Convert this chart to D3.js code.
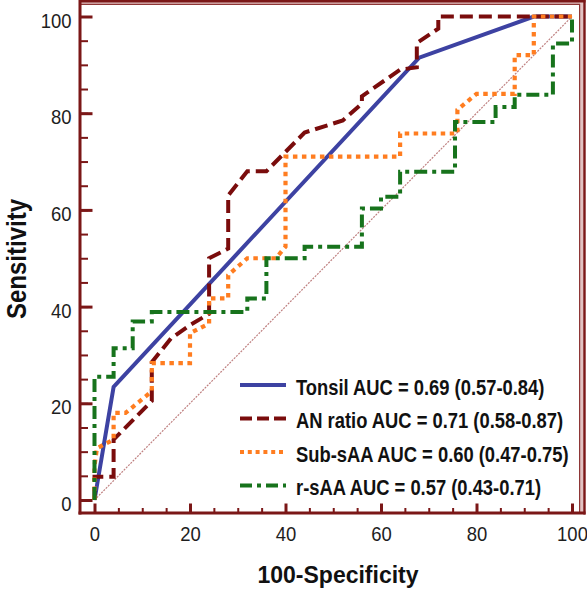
<!DOCTYPE html>
<html><head><meta charset="utf-8">
<script src="https://cdn.jsdelivr.net/npm/d3@7"></script>
<style>body{margin:0;background:#fff} svg{display:block}</style>
</head><body>
<svg id="c" width="587" height="592"></svg>
<script>
// ---- data ----
const legendLabels = [
  "Tonsil AUC = 0.69 (0.57-0.84)",
  "AN ratio AUC = 0.71 (0.58-0.87)",
  "Sub-sAA AUC = 0.60 (0.47-0.75)",
  "r-sAA AUC = 0.57 (0.43-0.71)"
];
const tonsil = [[0,0],[4,23.4],[68,91.5],[92,100],[100,100]];
const anRatio = [[0,0],[0,4.8],[4,4.8],[4,12.5],[12,20.5],[12,28.5],[16,33.4],[20,36.2],[24,38.5],[24,50],[28,52],[28,63],[32,68],[36,68],[40,72],[44,76],[52,78.5],[56,82],[56,83.5],[64,89],[67.5,89.5],[67.5,94.5],[72,97.5],[72,100],[100,100]];
const subSAA = [[0,0],[0,7],[0.5,10.7],[4,12.5],[4,18],[6.5,18],[12,22.5],[12,28.3],[20,28.3],[20,34.5],[24,36.5],[24,41.7],[28,41.7],[28,46.5],[32,50],[38,50],[40,52.4],[40,71],[64,71],[64,75.8],[76,75.8],[76,80.7],[80,84],[88,84],[88,92],[92,92],[92,100],[100,100]];
const rSAA = [[0,0],[0,25.5],[4,25.5],[4,31.4],[8,31.4],[8,36.9],[12,36.9],[12,38.9],[32,38.9],[32,41.7],[36,41.7],[36,50],[44,50],[44,52.4],[56,52.4],[56,60.3],[60,60.3],[60,62.7],[64,62.7],[64,67.9],[75.5,67.9],[75.5,78.2],[84,78.2],[84,81.3],[88,81.3],[88,83.8],[96,83.8],[96,94.4],[100,94.4],[100,100]];
const majorTicks = [0,20,40,60,80,100];
const minorTicks = [0,5,10,15,20,25,30,35,40,45,50,55,60,65,70,75,80,85,90,95,100];
const diagonal = [[0,0],[100,100]];
const xTitle = "100-Specificity";
const yTitle = "Sensitivity";

// ---- styles ----
const series = [tonsil, anRatio, subSAA, rSAA];
const styles = [
  {color:"#3d42a2", dash:null, w:4},
  {color:"#7a0c0c", dash:"13,6", w:4},
  {color:"#ff7d20", dash:"4.5,4.5", w:4.2},
  {color:"#17731c", dash:"13,5,4,5", w:4}
];
const legendDash = [null, "12,5", "4,3.8", "12,5,4,5"];
const frame = "#7b1717";
const FONT = "Liberation Sans, Arial, sans-serif";

const svg = d3.select("#c");
const x = d3.scaleLinear([0,100],[94.5,572]);
const y = d3.scaleLinear([0,100],[500,16.5]);

// frame
const fr = svg.append("g");
fr.append("rect").attr("x",80).attr("y",2).attr("width",504).attr("height",2.5).attr("fill","#e2c2c2");
fr.append("rect").attr("x",580).attr("y",2).attr("width",4).attr("height",511).attr("fill","#e2c2c2");
fr.append("line").attr("x1",80).attr("x2",585.5).attr("y1",1.2).attr("y2",1.2).attr("stroke",frame).attr("stroke-width",2.4);
fr.append("line").attr("x1",584.5).attr("x2",584.5).attr("y1",0).attr("y2",514.5).attr("stroke",frame).attr("stroke-width",2.4);
fr.append("line").attr("x1",80).attr("x2",580).attr("y1",4.3).attr("y2",4.3).attr("stroke","#8e3636").attr("stroke-width",1.2);
fr.append("line").attr("x1",579.6).attr("x2",579.6).attr("y1",4).attr("y2",513).attr("stroke","#8e3636").attr("stroke-width",1.2);
fr.append("line").attr("x1",80).attr("x2",80).attr("y1",0).attr("y2",514.5).attr("stroke",frame).attr("stroke-width",3);
fr.append("line").attr("x1",78.5).attr("x2",585.5).attr("y1",513).attr("y2",513).attr("stroke",frame).attr("stroke-width",3);

// axes
function styleAxis(g, w){
  g.select(".domain").remove();
  g.selectAll(".tick line").attr("stroke",frame).attr("stroke-width",w);
}
const kTick = 0.88;
svg.append("g").attr("transform","translate(80,0)")
  .call(d3.axisLeft(y).tickValues(minorTicks).tickSize(-8).tickFormat(""))
  .call(g=>styleAxis(g,2));
const yAx = svg.append("g").attr("transform","translate(80,0)")
  .call(d3.axisLeft(y).tickValues(majorTicks).tickSize(-12.5).tickPadding(8.5).tickFormat(d3.format("d")))
  .call(g=>styleAxis(g,3));
svg.append("g").attr("transform","translate(0,513)")
  .call(d3.axisBottom(x).tickValues(minorTicks).tickSize(-5).tickFormat(""))
  .call(g=>styleAxis(g,2));
const xAx = svg.append("g").attr("transform","translate(0,513)")
  .call(d3.axisBottom(x).tickValues(majorTicks).tickSize(-9.5).tickPadding(13.5).tickFormat(d3.format("d")))
  .call(g=>styleAxis(g,3));
[yAx,xAx].forEach(a=>{
  a.selectAll("text").attr("font-family",FONT).attr("font-size",21).attr("fill","#1e1e1e");
});
yAx.selectAll("text").attr("dy","0.5em").attr("x",-8.5/kTick).attr("transform",`scale(${kTick},1)`);
xAx.selectAll("text").attr("transform",`scale(${kTick},1)`);

// diagonal
const line = d3.line().x(d=>x(d[0])).y(d=>y(d[1]));
svg.append("path").attr("d",line(diagonal)).attr("fill","none")
  .attr("stroke","#bf8080").attr("stroke-width",1.2).attr("stroke-dasharray","2,1.2");

// curves
series.forEach((s,i)=>{
  const st = styles[i];
  svg.append("path").attr("d",line(s)).attr("fill","none")
    .attr("stroke",st.color).attr("stroke-width",st.w)
    .attr("stroke-dasharray",st.dash).attr("stroke-linejoin","miter").attr("stroke-linecap","butt");
});

// legend
const rows = [385,418.5,452,485.5];
legendLabels.forEach((t,i)=>{
  svg.append("line").attr("x1",240).attr("x2",286).attr("y1",rows[i]).attr("y2",rows[i])
    .attr("stroke",styles[i].color).attr("stroke-width",4).attr("stroke-dasharray",legendDash[i]);
  svg.append("text").attr("transform",`translate(296,${rows[i]+9.5}) scale(0.835,1)`)
    .attr("font-family",FONT).attr("font-weight","bold")
    .attr("font-size",22).attr("fill","#111").text(t);
});

// titles
svg.append("text").attr("x",338).attr("y",583).attr("text-anchor","middle")
  .attr("font-family",FONT).attr("font-weight","bold")
  .attr("font-size",23).attr("fill","#111").text(xTitle);
const yt = svg.append("text").attr("text-anchor","middle")
  .attr("font-family",FONT).attr("font-weight","bold")
  .attr("font-size",28).attr("fill","#111").text(yTitle);
const Ly = yt.node().getComputedTextLength();
yt.attr("transform",`translate(26,259) rotate(-90) scale(${120/Ly},1)`);
</script>
</body></html>
